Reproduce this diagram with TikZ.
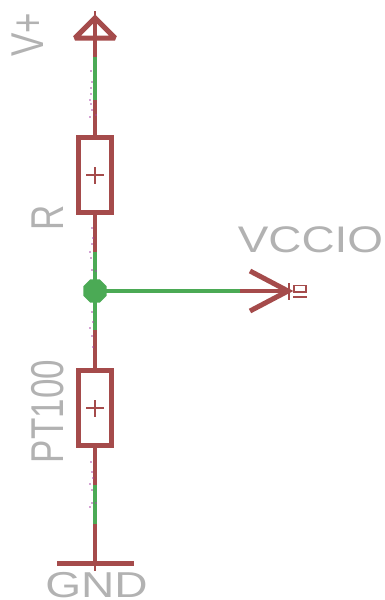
\documentclass[tikz,border=0pt]{standalone}
\usepackage{fontspec}
\usetikzlibrary{shapes.geometric}
\setmainfont{Liberation Sans}
\definecolor{sym}{RGB}{165,75,75}
\definecolor{net}{RGB}{75,170,85}
\definecolor{lab}{RGB}{178,178,178}
\definecolor{speck}{RGB}{170,70,170}
\newcommand{\vlab}[1]{\scalebox{0.76}[1]{\fontsize{46pt}{46pt}\selectfont #1}}
\newcommand{\hlab}[1]{\scalebox{1.24}[1]{\fontsize{37pt}{37pt}\selectfont #1}}
\tikzset{
  x=1pt,y=-1pt,
  symline/.style={draw=sym,line width=5pt},
  wire/.style={draw=sym,line width=3.8pt},
  netline/.style={draw=net,line width=3.8pt},
  thin sym/.style={draw=sym,line width=1.4pt},
  resistor/.style={draw=sym,line width=5.5pt,minimum width=33pt,minimum height=75pt,inner sep=0pt,rectangle},
  label text/.style={text=lab,inner sep=0pt,anchor=base},
  speckdot/.style={fill=speck,circle,inner sep=0pt,minimum size=1.8pt}
}
\begin{document}
\begin{tikzpicture}
\useasboundingbox (0,0) rectangle (385,600);
% points
\coordinate (apex) at (95,11);
\coordinate (vbase) at (95,38);
\coordinate (g1) at (95,57);
\coordinate (g2) at (95,100);
\node[resistor] (r1) at (95,175) {};
\node[resistor] (r2) at (95,408) {};
\coordinate (j) at (95,291);
\coordinate (g3) at (95,252);
\coordinate (g4) at (95,330);
\coordinate (g5) at (95,485);
\coordinate (g6) at (95,524);
\coordinate (gndbar) at (95,563);
\coordinate (gndtick) at (95,571);
\coordinate (split) at (240,291);
\coordinate (tip) at (288,291);
% wires
\draw[wire] (vbase) -- (g1);
\draw[netline] (g1) -- (g2);
\draw[wire] (g2) -- (r1.north);
\draw[wire] (r1.south) -- (g3);
\draw[netline] (g3) -- (g4);
\draw[wire] (g4) -- (r2.north);
\draw[wire] (r2.south) -- (g5);
\draw[netline] (g5) -- (g6);
\draw[wire] (g6) -- (gndbar);
\draw[thin sym] (gndbar) -- (gndtick);
\draw[netline] (j) -- (split);
\draw[wire] (split) -- (tip);
% V+ symbol
\draw[symline,line join=miter,miter limit=1.5] (75,38) -- (115,38) -- (95,18) -- cycle;
\draw[wire] (95,38) -- (95,18);
\draw[thin sym] (95,18) -- (apex);
% junction
\node[fill=net,regular polygon,regular polygon sides=8,inner sep=0pt,minimum size=25pt] (jd) at (j) {};
% resistors plus
\draw[thin sym] (86,175) -- (104,175) (95,167) -- (95,184);
\draw[thin sym] (86,408) -- (104,408) (95,400) -- (95,417);
% gnd bar
\draw[symline] (57,563) -- (134,563);
% output arrow
\draw[draw=sym,line width=5pt] (250,271) -- (tip) -- (250,311);
\draw[thin sym] (289,283) -- (289,300);
\draw[thin sym] (294,285.5) rectangle (306,292);
\draw[thin sym] (293,297) -- (307,297);
% specks
\foreach \px/\py in {91/71,92/82,91/88,91/94,90/100,91/104,92/110,90/117,96/115,92/228,93/238,92/244,90/252,91/258,92/270,96/271,92/312,93/322,90/328,92/336,93/347,91/462,92/472,93/478,90/484,92/490,92/503,96/503,90/507}
  \node[speckdot] at (\px,\py) {};
% labels
\node[label text,rotate=90,anchor=base] (vp) at (43,34.5) {\vlab{V+}};
\node[label text,rotate=90,anchor=base] (rl) at (63,218) {\vlab{R}};
\node[label text,rotate=90,anchor=base] (pt) at (63,411.5) {\vlab{PT100}};
\node[label text] (vcc) at (310.5,252) {\hlab{VCCIO}};
\node[label text] (gnd) at (96.5,597) {\scalebox{1.28}[1]{\fontsize{36pt}{36pt}\selectfont GND}};
\end{tikzpicture}
\end{document}
